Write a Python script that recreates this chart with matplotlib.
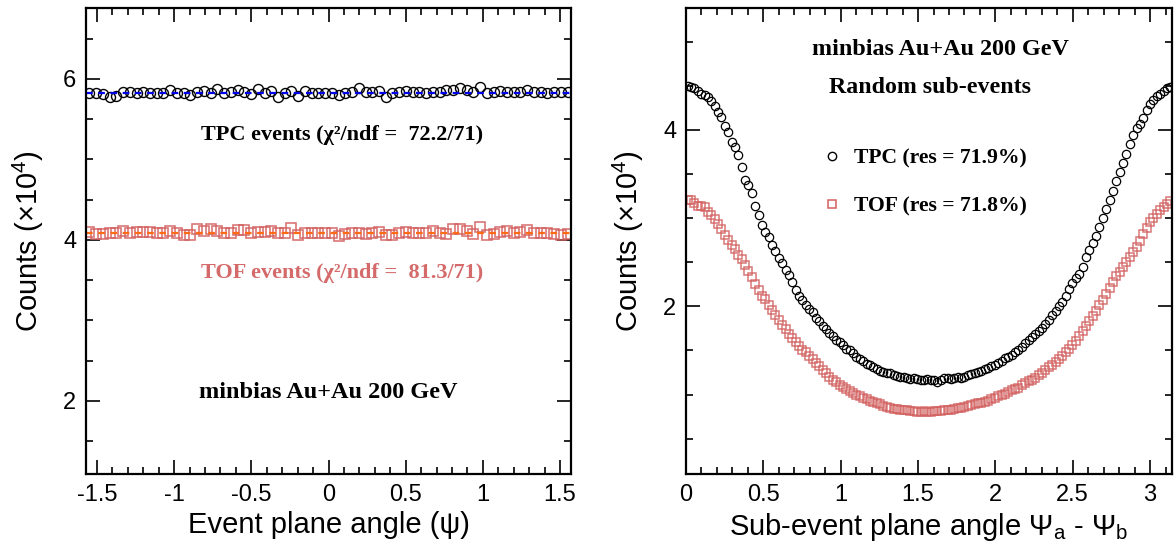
import numpy as np
import matplotlib
matplotlib.use('Agg')
import matplotlib.pyplot as plt
from matplotlib.lines import Line2D
from matplotlib.ticker import MultipleLocator, FuncFormatter

plt.rcParams['font.family'] = ['Liberation Sans', 'DejaVu Sans']
plt.rcParams['mathtext.fontset'] = 'custom'
plt.rcParams['mathtext.rm'] = 'Liberation Sans'
plt.rcParams['mathtext.it'] = 'Liberation Sans:italic'
plt.rcParams['mathtext.bf'] = 'Liberation Sans:bold'
plt.rcParams['axes.unicode_minus'] = False

# ---------------- data ----------------
n_ep_bins = 72
tpc_ep = [5.828, 5.820, 5.808, 5.779, 5.787, 5.841, 5.841, 5.820, 5.841, 5.828,
          5.820, 5.828, 5.861, 5.828, 5.820, 5.799, 5.841, 5.849, 5.828, 5.870,
          5.820, 5.841, 5.861, 5.841, 5.808, 5.870, 5.828, 5.849, 5.779, 5.828,
          5.849, 5.787, 5.849, 5.828, 5.828, 5.820, 5.820, 5.800, 5.820, 5.841,
          5.882, 5.832, 5.841, 5.849, 5.779, 5.820, 5.841, 5.849, 5.841, 5.841,
          5.820, 5.832, 5.841, 5.861, 5.861, 5.882, 5.861, 5.832, 5.902, 5.820,
          5.841, 5.849, 5.841, 5.841, 5.832, 5.861, 5.841, 5.832, 5.820, 5.841,
          5.832, 5.841]
tof_ep = [4.102, 4.074, 4.074, 4.082, 4.090, 4.110, 4.090, 4.102, 4.102, 4.102,
          4.090, 4.090, 4.115, 4.090, 4.061, 4.061, 4.131, 4.115, 4.131, 4.115,
          4.082, 4.090, 4.123, 4.123, 4.090, 4.102, 4.102, 4.115, 4.082, 4.082,
          4.143, 4.061, 4.090, 4.082, 4.090, 4.082, 4.090, 4.049, 4.074, 4.082,
          4.082, 4.074, 4.090, 4.102, 4.061, 4.061, 4.090, 4.102, 4.082, 4.090,
          4.082, 4.111, 4.090, 4.074, 4.131, 4.131, 4.111, 4.074, 4.164, 4.061,
          4.074, 4.102, 4.115, 4.090, 4.102, 4.123, 4.090, 4.082, 4.090, 4.074,
          4.061, 4.074]
tpc_fit = 5.83
tof_fit = 4.09

n_sub_bins = 144
tpc_sub = [4.50, 4.49, 4.47, 4.44, 4.41, 4.39, 4.37, 4.33, 4.27, 4.20,
           4.14, 4.04, 3.98, 3.86, 3.80, 3.72, 3.58, 3.43, 3.37, 3.28,
           3.14, 3.03, 2.92, 2.84, 2.78, 2.70, 2.63, 2.55, 2.49, 2.41,
           2.35, 2.27, 2.19, 2.12, 2.07, 2.02, 1.97, 1.93, 1.87, 1.83,
           1.78, 1.74, 1.70, 1.66, 1.62, 1.59, 1.56, 1.52, 1.50, 1.47,
           1.43, 1.40, 1.38, 1.35, 1.33, 1.31, 1.29, 1.27, 1.26, 1.25,
           1.24, 1.22, 1.21, 1.20, 1.20, 1.19, 1.18, 1.19, 1.18, 1.17,
           1.17, 1.18, 1.17, 1.16, 1.14, 1.17, 1.19, 1.19, 1.18, 1.19,
           1.20, 1.19, 1.20, 1.22, 1.23, 1.24, 1.26, 1.27, 1.29, 1.30,
           1.32, 1.34, 1.36, 1.38, 1.41, 1.43, 1.45, 1.48, 1.51, 1.54,
           1.58, 1.62, 1.65, 1.69, 1.72, 1.75, 1.80, 1.85, 1.90, 1.95,
           2.00, 2.05, 2.12, 2.20, 2.26, 2.32, 2.37, 2.45, 2.56, 2.64,
           2.72, 2.80, 2.90, 3.00, 3.10, 3.20, 3.31, 3.42, 3.52, 3.62,
           3.73, 3.84, 3.94, 4.02, 4.07, 4.13, 4.22, 4.29, 4.34, 4.38,
           4.41, 4.44, 4.47, 4.49]
tof_sub = [3.21, 3.20, 3.17, 3.14, 3.14, 3.13, 3.07, 3.03, 2.99, 2.93,
           2.88, 2.81, 2.75, 2.70, 2.65, 2.58, 2.54, 2.47, 2.40, 2.33,
           2.25, 2.19, 2.12, 2.08, 2.01, 1.96, 1.90, 1.85, 1.79, 1.74,
           1.69, 1.64, 1.59, 1.55, 1.51, 1.48, 1.44, 1.40, 1.36, 1.32,
           1.28, 1.24, 1.20, 1.17, 1.14, 1.11, 1.09, 1.06, 1.04, 1.02,
           1.00, 0.98, 0.96, 0.95, 0.93, 0.92, 0.90, 0.89, 0.87, 0.86,
           0.85, 0.84, 0.84, 0.83, 0.83, 0.82, 0.81, 0.81, 0.80, 0.80,
           0.81, 0.80, 0.80, 0.81, 0.81, 0.81, 0.82, 0.82, 0.83, 0.84,
           0.85, 0.85, 0.86, 0.87, 0.88, 0.89, 0.90, 0.91, 0.92, 0.93,
           0.95, 0.96, 0.98, 0.99, 1.01, 1.03, 1.05, 1.06, 1.08, 1.11,
           1.13, 1.15, 1.17, 1.19, 1.22, 1.25, 1.28, 1.31, 1.34, 1.37,
           1.40, 1.44, 1.48, 1.52, 1.56, 1.61, 1.66, 1.72, 1.78, 1.83,
           1.89, 1.95, 2.01, 2.07, 2.14, 2.21, 2.28, 2.34, 2.39, 2.45,
           2.50, 2.56, 2.61, 2.67, 2.74, 2.82, 2.89, 2.95, 3.00, 3.05,
           3.09, 3.13, 3.16, 3.19]

tpc_label_ep = "TPC events (\u03c7\u00b2/ndf =  72.2/71)"
tof_label_ep = "TOF events (\u03c7\u00b2/ndf =  81.3/71)"
tpc_label_sub = "TPC (res = 71.9%)"
tof_label_sub = "TOF (res = 71.8%)"
sys_label = "minbias Au+Au 200 GeV"
sub_label = "Random sub-events"

# ---------------- style ----------------
RED = '#d2605f'
RED_TXT = '#d46a6a'
SERIF = ['Liberation Serif', 'DejaVu Serif']

fig = plt.figure(figsize=(11.75, 5.43), dpi=100)
W, H = 1175.0, 543.0
ax1 = fig.add_axes([86 / W, 1 - 474 / H, 485 / W, 466 / H])
ax2 = fig.add_axes([686 / W, 1 - 474 / H, 486 / W, 466 / H])

fmt = FuncFormatter(lambda v, p: '%g' % round(v, 6))


def style(ax):
    for s in ax.spines.values():
        s.set_linewidth(1.6)
    ax.tick_params(which='both', direction='in', top=True, right=True,
                   labelsize=17, width=1.2, pad=7)
    ax.tick_params(which='major', length=10)
    ax.tick_params(which='minor', length=5)
    ax.xaxis.set_major_formatter(fmt)
    ax.yaxis.set_major_formatter(fmt)
    ax.xaxis.set_major_locator(MultipleLocator(0.5))
    ax.xaxis.set_minor_locator(MultipleLocator(0.1))
    ax.yaxis.set_major_locator(MultipleLocator(2))
    ax.yaxis.set_minor_locator(MultipleLocator(0.5))


# ---------------- left panel ----------------
edges1 = np.linspace(-np.pi / 2, np.pi / 2, n_ep_bins + 1)
x1 = 0.5 * (edges1[:-1] + edges1[1:])
ax1.plot(x1, tpc_ep, ls='none', marker='o', ms=7.2, mfc='none', mec='black', mew=1.0)
ax1.plot(x1, tof_ep, ls='none', marker='s', ms=6.8, mfc='none', mec=RED, mew=1.2, alpha=0.85)
ax1.plot([edges1[0], edges1[-1]], [tpc_fit, tpc_fit], color='#0000ee', lw=1.6, dashes=(3, 2.5))
ax1.plot([edges1[0], edges1[-1]], [tof_fit, tof_fit], color='#ff6a13', lw=1.6, dashes=(3, 2.5))
ax1.set_xlim(-np.pi / 2, np.pi / 2)
ax1.set_ylim(1.093, 6.88)
style(ax1)
ax1.set_xlabel('Event plane angle (\u03c8)', fontsize=21, labelpad=4)
ax1.set_ylabel(r'Counts ($\times$10$^{4}$)', fontsize=21, labelpad=12)

ax1.text(0.528, 0.727, tpc_label_ep, transform=ax1.transAxes, ha='center', va='center',
         fontsize=16, fontweight='bold', family=SERIF, color='black')
ax1.text(0.528, 0.431, tof_label_ep, transform=ax1.transAxes, ha='center', va='center',
         fontsize=16, fontweight='bold', family=SERIF, color=RED_TXT)
ax1.text(0.499, 0.174, sys_label, transform=ax1.transAxes, ha='center', va='center',
         fontsize=17.5, fontweight='bold', family=SERIF, color='black')

# ---------------- right panel ----------------
edges2 = np.linspace(0, np.pi, n_sub_bins + 1)
x2 = 0.5 * (edges2[:-1] + edges2[1:])
ax2.plot(x2, tpc_sub, ls='none', marker='o', ms=6.0, mfc='none', mec='black', mew=0.9)
ax2.plot(x2, tof_sub, ls='none', marker='s', ms=5.6, mfc='none', mec=RED, mew=1.1, alpha=0.85)
ax2.set_xlim(0, np.pi)
ax2.set_ylim(0.1, 5.38)
style(ax2)
ax2.set_xlabel(r'Sub-event plane angle $\Psi_{\rm a}$ - $\Psi_{\rm b}$', fontsize=21, labelpad=4)
ax2.set_ylabel(r'Counts ($\times$10$^{4}$)', fontsize=21, labelpad=12)

ax2.text(0.523, 0.910, sys_label, transform=ax2.transAxes, ha='center', va='center',
         fontsize=17.4, fontweight='bold', family=SERIF)
ax2.text(0.502, 0.830, sub_label, transform=ax2.transAxes, ha='center', va='center',
         fontsize=17.2, fontweight='bold', family=SERIF)

handles = [Line2D([], [], ls='none', marker='o', ms=6, mfc='none', mec='black', mew=1.0),
           Line2D([], [], ls='none', marker='s', ms=6, mfc='none', mec=RED, mew=1.1)]
leg = ax2.legend(handles, [tpc_label_sub, tof_label_sub], loc='upper left',
                 bbox_to_anchor=((819 - 686) / 486, (474 - 148) / 466),
                 frameon=False, handlelength=1.2, handletextpad=0.4,
                 labelspacing=1.3, borderpad=0, borderaxespad=0,
                 prop={'family': SERIF, 'weight': 'bold', 'size': 15.6})

fig.savefig('out.png', dpi=100)
